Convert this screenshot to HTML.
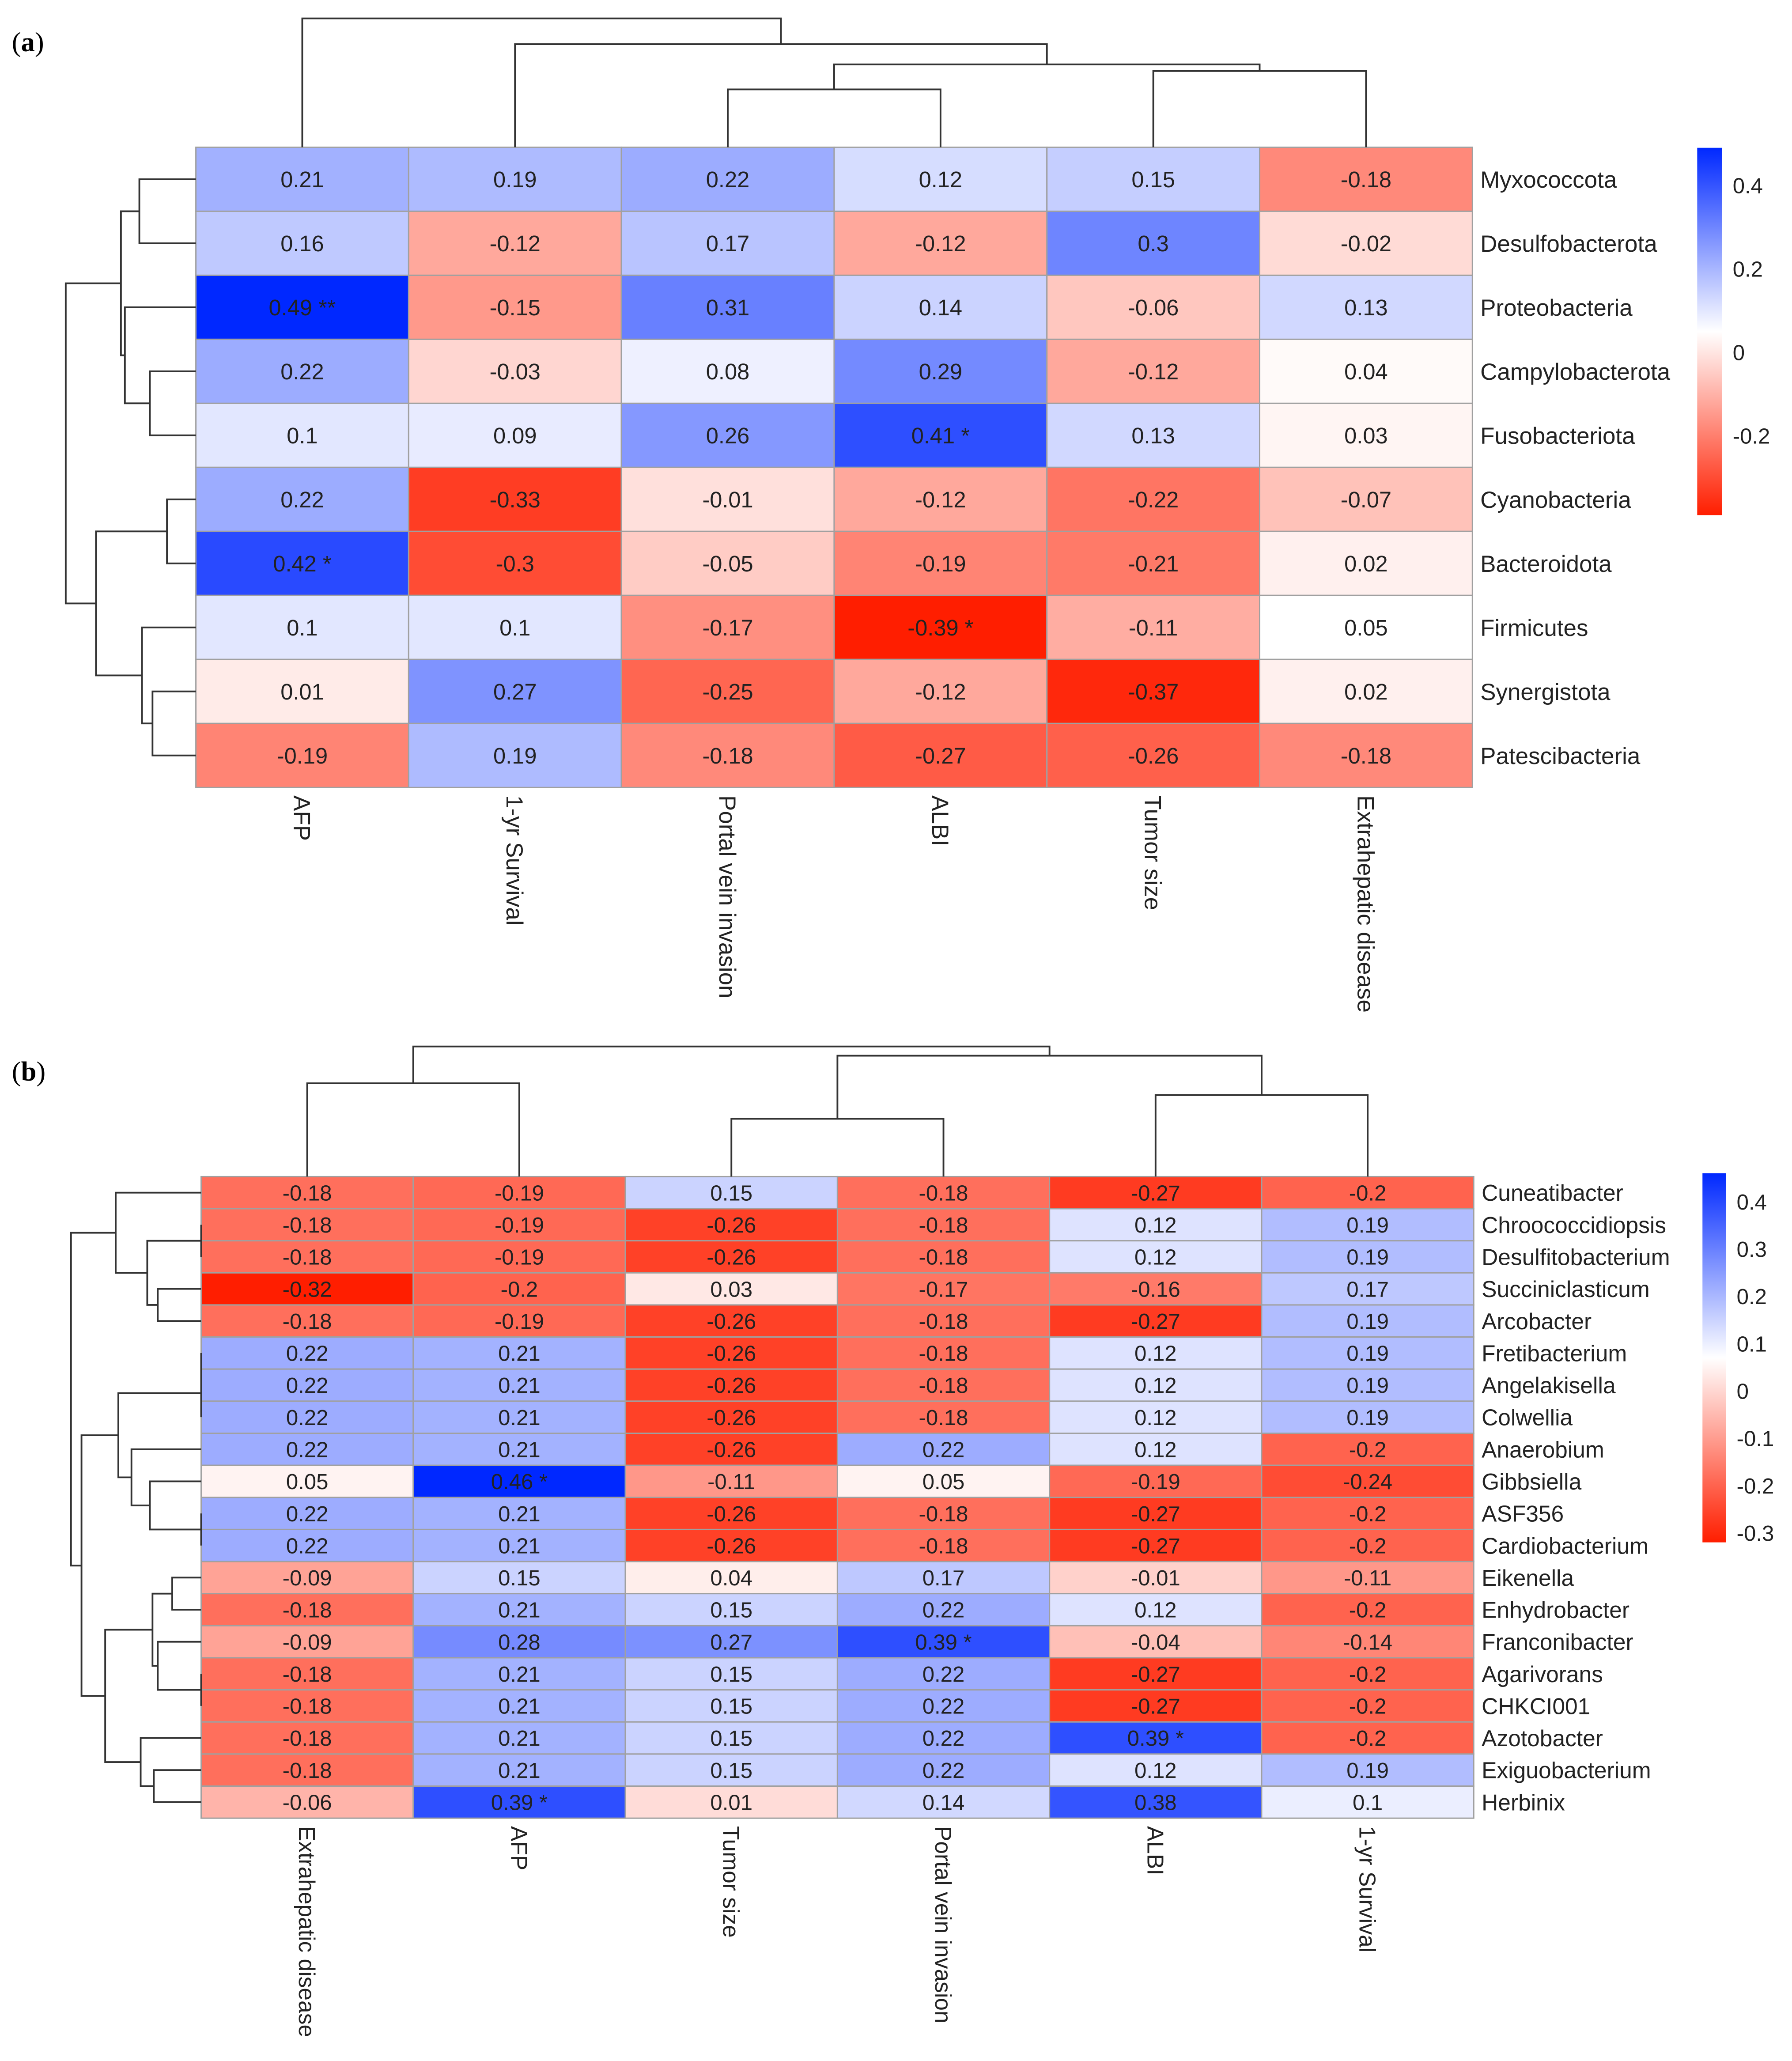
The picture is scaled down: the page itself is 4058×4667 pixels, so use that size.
<!DOCTYPE html>
<html><head><meta charset="utf-8"><style>html,body{margin:0;padding:0;background:#fff}svg{display:block}</style></head>
<body>
<svg id="fig" width="4058" height="4667" viewBox="0 0 1363.1 1567.7" preserveAspectRatio="none" xmlns="http://www.w3.org/2000/svg" font-family="'Liberation Sans', sans-serif">
<defs>
<linearGradient id="ga" x1="0" y1="0" x2="0" y2="1">
<stop offset="0" stop-color="rgb(0,40,255)"/><stop offset="0.5" stop-color="#fff"/><stop offset="1" stop-color="rgb(255,30,0)"/></linearGradient>
<linearGradient id="gb" x1="0" y1="0" x2="0" y2="1">
<stop offset="0" stop-color="rgb(0,40,255)"/><stop offset="0.5" stop-color="#fff"/><stop offset="1" stop-color="rgb(255,30,0)"/></linearGradient>
</defs>
<text x="9" y="39" font-family="'Liberation Serif', serif" font-size="21">(<tspan font-weight="bold">a</tspan>)</text>
<text x="9" y="822" font-family="'Liberation Serif', serif" font-size="21">(<tspan font-weight="bold">b</tspan>)</text>
<g id="root"></g>
</svg>
<script>
// Panel A data
const aCols = ["AFP","1-yr Survival","Portal vein invasion","ALBI","Tumor size","Extrahepatic disease"];
const aRows = ["Myxococcota","Desulfobacterota","Proteobacteria","Campylobacterota","Fusobacteriota","Cyanobacteria","Bacteroidota","Firmicutes","Synergistota","Patescibacteria"];
const aVals = [
[0.21,0.19,0.22,0.12,0.15,-0.18],
[0.16,-0.12,0.17,-0.12,0.3,-0.02],
[0.49,-0.15,0.31,0.14,-0.06,0.13],
[0.22,-0.03,0.08,0.29,-0.12,0.04],
[0.1,0.09,0.26,0.41,0.13,0.03],
[0.22,-0.33,-0.01,-0.12,-0.22,-0.07],
[0.42,-0.3,-0.05,-0.19,-0.21,0.02],
[0.1,0.1,-0.17,-0.39,-0.11,0.05],
[0.01,0.27,-0.25,-0.12,-0.37,0.02],
[-0.19,0.19,-0.18,-0.27,-0.26,-0.18]];
const aStars = {"2,0":"**","4,3":"*","6,0":"*","7,3":"*"};
const aTicks = [0.4,0.2,0,-0.2];
const aTickLabels = ["0.4","0.2","0","-0.2"];
// Panel B data
const bCols = ["Extrahepatic disease","AFP","Tumor size","Portal vein invasion","ALBI","1-yr Survival"];
const bRows = ["Cuneatibacter","Chroococcidiopsis","Desulfitobacterium","Succiniclasticum","Arcobacter","Fretibacterium","Angelakisella","Colwellia","Anaerobium","Gibbsiella","ASF356","Cardiobacterium","Eikenella","Enhydrobacter","Franconibacter","Agarivorans","CHKCI001","Azotobacter","Exiguobacterium","Herbinix"];
const bVals = [
[-0.18,-0.19,0.15,-0.18,-0.27,-0.2],
[-0.18,-0.19,-0.26,-0.18,0.12,0.19],
[-0.18,-0.19,-0.26,-0.18,0.12,0.19],
[-0.32,-0.2,0.03,-0.17,-0.16,0.17],
[-0.18,-0.19,-0.26,-0.18,-0.27,0.19],
[0.22,0.21,-0.26,-0.18,0.12,0.19],
[0.22,0.21,-0.26,-0.18,0.12,0.19],
[0.22,0.21,-0.26,-0.18,0.12,0.19],
[0.22,0.21,-0.26,0.22,0.12,-0.2],
[0.05,0.46,-0.11,0.05,-0.19,-0.24],
[0.22,0.21,-0.26,-0.18,-0.27,-0.2],
[0.22,0.21,-0.26,-0.18,-0.27,-0.2],
[-0.09,0.15,0.04,0.17,-0.01,-0.11],
[-0.18,0.21,0.15,0.22,0.12,-0.2],
[-0.09,0.28,0.27,0.39,-0.04,-0.14],
[-0.18,0.21,0.15,0.22,-0.27,-0.2],
[-0.18,0.21,0.15,0.22,-0.27,-0.2],
[-0.18,0.21,0.15,0.22,0.39,-0.2],
[-0.18,0.21,0.15,0.22,0.12,0.19],
[-0.06,0.39,0.01,0.14,0.38,0.1]];
const bStars = {"9,1":"*","14,3":"*","17,4":"*","19,1":"*"};
const bTicks = [0.4,0.3,0.2,0.1,0,-0.1,-0.2,-0.3];
const bTickLabels = ["0.4","0.3","0.2","0.1","0","-0.1","-0.2","-0.3"];
// dendrogram merges: [childA, childB, level]; negative = merge index (1-based)
const aColTree = [[2,3,68],[4,5,54],[-1,-2,49],[1,-3,33.6],[0,-4,14]];
const aRowTree = [[0,1,106],[3,4,114],[2,-2,95],[-1,-3,92],[5,6,127],[8,9,116],[7,-6,108],[-5,-7,73],[-4,-8,50]];
const bColTree = [[0,1,824],[2,3,851],[4,5,833],[-2,-3,803],[-1,-4,796]];
const bRowTree = [[1,2,153],[3,4,120],[-1,-2,112],[0,-3,88],[5,6,153],[-5,7,153],[10,11,153],[9,-7,114],[8,-8,100],[-6,-9,90],[12,13,131],[15,16,153],[14,-12,120],[-11,-13,116],[18,19,117],[17,-15,107],[-14,-16,80],[-10,-17,62],[-4,-18,54]];

const NS="http://www.w3.org/2000/svg";
const root=document.getElementById('root');
function mk(tag,attrs,parent){const e=document.createElementNS(NS,tag);for(const k in attrs)e.setAttribute(k,attrs[k]);(parent||root).appendChild(e);return e;}
function color(v,vmax,vmin){
  const mid=(vmax+vmin)/2, half=(vmax-vmin)/2;
  const t=Math.max(-1,Math.min(1,(v-mid)/half));
  if(t>=0){return `rgb(${Math.round(255*(1-t))},${Math.round(255-215*t)},255)`;}
  const u=-t;return `rgb(255,${Math.round(255-225*u)},${Math.round(255*(1-u))})`;
}
function panel(o){
  const g=mk('g',{});
  
  
  const all=o.vals.flat();
  const vmax=Math.max(...all), vmin=Math.min(...all);
  const nc=o.cols.length,nr=o.rows.length;
  const cw=(o.x1-o.x0)/nc, rh=(o.y1-o.y0)/nr;
  const xAt=j=>o.x0+cw*(j+0.5), yAt=i=>o.y0+rh*(i+0.5);
  o.vals.forEach((row,i)=>row.forEach((v,j)=>{
    const r=mk('rect',{x:o.x0+cw*j,y:o.y0+rh*i,width:cw,height:rh,fill:color(v,vmax,vmin),stroke:'#a0a0a0','stroke-width':1},g);
    
    
    const s=o.stars[i+','+j];
    const t=mk('text',{x:xAt(j),y:yAt(i)+o.fs*0.36,'text-anchor':'middle','font-size':o.fs,fill:'#222'},g);
    t.textContent=String(v)+(s?' '+s:'');
    
    
  }));
  o.rows.forEach((n,i)=>{
    const t=mk('text',{x:o.x1+6,y:yAt(i)+o.lfs*0.36,'font-size':o.lfs,fill:'#222'},g);
    t.textContent=n;
    
    
  });
  o.cols.forEach((n,j)=>{
    const x=xAt(j)-o.lfs*0.36,y=o.y1+6;
    const t=mk('text',{x:x,y:y,'font-size':o.lfs,fill:'#222',transform:`rotate(90 ${x} ${y})`},g);
    t.textContent=n;
    
    
  });
  function tree(merges,leafPos,edge,horizTop){
    const pos=[],lvl=[];
    const get=c=>c>=0?[leafPos(c),edge]:[pos[-c-1],lvl[-c-1]];
    let d='';
    merges.forEach((m,k)=>{
      const [pa,la]=get(m[0]),[pb,lb]=get(m[1]),h=m[2];
      if(horizTop) d+=`M${pa},${la}V${h}H${pb}V${lb}`;
      else d+=`M${la},${pa}H${h}V${pb}H${lb}`;
      pos[k]=(pa+pb)/2;lvl[k]=h;
    });
    const p=mk('path',{d:d,fill:'none',stroke:'#333','stroke-width':1.3},g);
    
    
  }
  tree(o.colTree,xAt,o.y0,true);
  tree(o.rowTree,yAt,o.x0,false);
  const cb=o.cb;
  const cy=v=>cb.zero-v*cb.scale;
  const bar=mk('rect',{x:cb.x,y:cy(vmax),width:cb.w,height:cy(vmin)-cy(vmax),fill:cb.grad},g);
  
  
  o.ticks.forEach((v,k)=>{
    const t=mk('text',{x:cb.x+cb.w+8,y:cy(v)+6,'font-size':16.5,fill:'#222'},g);
    t.textContent=o.tickLabels[k];
    
    
  });
}
panel({name:'heatmap-a',cols:aCols,rows:aRows,vals:aVals,stars:aStars,x0:149,x1:1120,y0:112,y1:599,fs:17,lfs:17.8,
  colTree:aColTree,rowTree:aRowTree,ticks:aTicks,tickLabels:aTickLabels,
  cb:{x:1291,w:19,zero:268,scale:317.5,grad:'url(#ga)'}});
panel({name:'heatmap-b',cols:bCols,rows:bRows,vals:bVals,stars:bStars,x0:153,x1:1121,y0:895,y1:1383,fs:16.5,lfs:17.3,
  colTree:bColTree,rowTree:bRowTree,ticks:bTicks,tickLabels:bTickLabels,
  cb:{x:1295,w:18,zero:1058,scale:360,grad:'url(#gb)'}});
</script>
</body></html>
